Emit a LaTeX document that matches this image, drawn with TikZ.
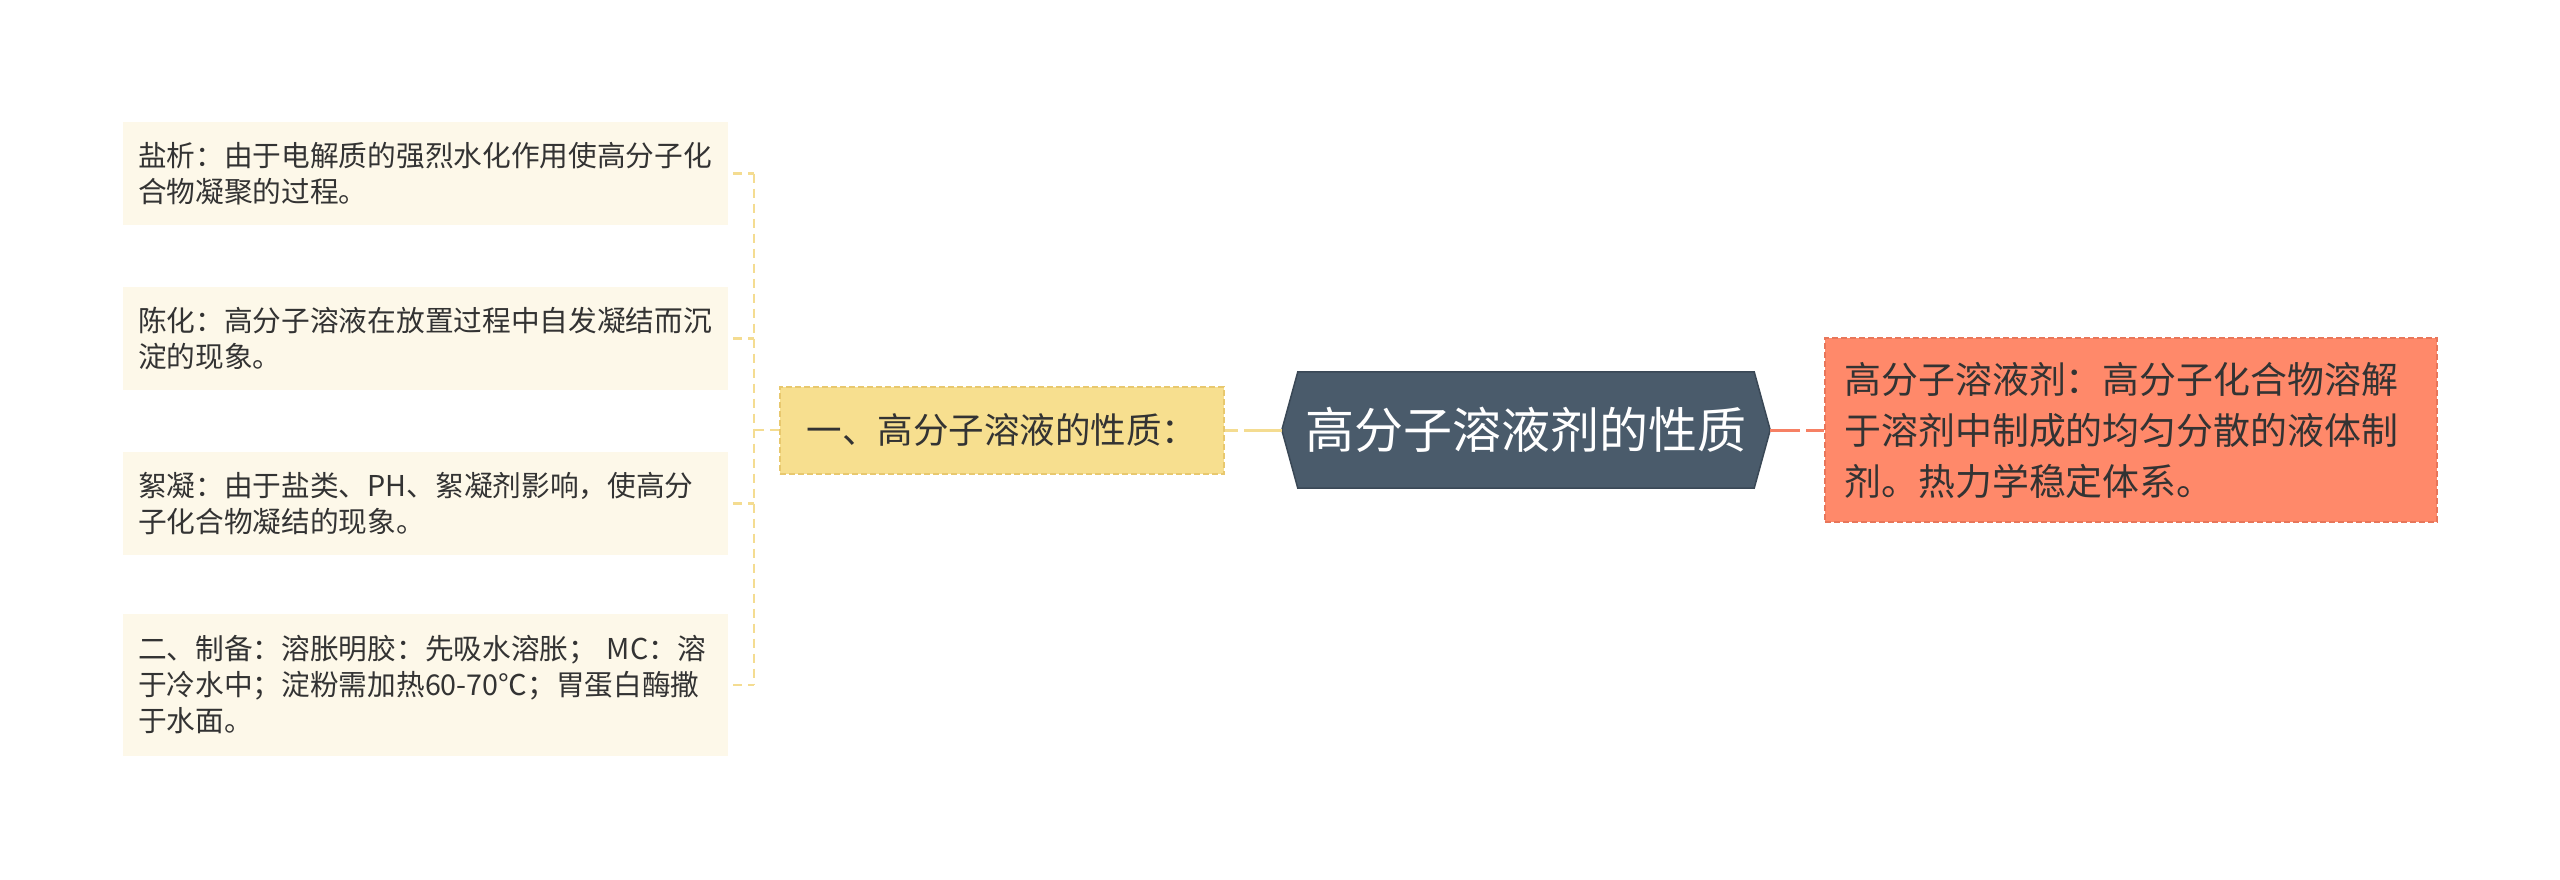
\documentclass[tikz,border=0pt]{standalone}
\usepackage{fontspec}
\setmainfont{Noto Sans CJK SC}
\usetikzlibrary{calc}
\pgfdeclarelayer{background}
\pgfsetlayers{background,main}
\definecolor{leaffill}{RGB}{253,248,233}
\definecolor{yfill}{RGB}{247,223,143}
\definecolor{yborder}{RGB}{232,200,110}
\definecolor{yline}{RGB}{244,220,145}
\definecolor{ofill}{RGB}{255,137,106}
\definecolor{oborder}{RGB}{232,118,90}
\definecolor{oline}{RGB}{246,128,100}
\definecolor{hexfill}{RGB}{74,91,107}
\definecolor{hexborder}{RGB}{58,72,86}
\definecolor{txt}{RGB}{51,51,51}
\tikzset{
  leaf/.style={fill=leaffill, text=txt, text width=575pt, inner xsep=15pt, inner ysep=0pt,
    align=left, font=\fontsize{28.7}{36}\selectfont},
  subbox/.style={fill=yfill, draw=yborder, line width=2pt, dash pattern=on 6pt off 3pt,
    minimum width=444pt, minimum height=87pt, text=txt, font=\fontsize{35.5}{44}\selectfont},
  rootbox/.style={minimum width=456pt, minimum height=116pt, inner sep=0pt, text=white,
    font=\fontsize{49}{56}\selectfont},
  obox/.style={fill=ofill, draw=oborder, line width=2pt, dash pattern=on 6pt off 3pt,
    text width=572pt, inner xsep=20pt, align=left, minimum height=184pt, text=txt,
    font=\fontsize{36.9}{51}\selectfont},
  yconn/.style={draw=yline, line width=2.5pt, dash pattern=on 9pt off 6pt},
  yconnroot/.style={draw=yline, line width=3pt, dash pattern=on 38pt off 6pt},
  oconn/.style={draw=oline, line width=3pt, dash pattern=on 30pt off 6pt},
}
\begin{document}
\begin{tikzpicture}[x=1pt,y=-1pt]
\begin{pgfonlayer}{background}
\fill[white] (0,0) rectangle (2560,879);
\end{pgfonlayer}
% leaves
\node[leaf, minimum height=103pt] (l1) at (425.5,173.5) {盐析：由于电解质的强烈水化作用使高分子化\\合物凝聚的过程。};
\node[leaf, minimum height=103pt] (l2) at (425.5,338.5) {陈化：高分子溶液在放置过程中自发凝结而沉\\淀的现象。};
\node[leaf, minimum height=103pt] (l3) at (425.5,503.5) {絮凝：由于盐类、PH、絮凝剂影响，使高分\\子化合物凝结的现象。};
\node[leaf, minimum height=142pt] (l4) at (425.5,685) {二、制备：溶胀明胶：先吸水溶胀； MC：溶\\于冷水中；淀粉需加热60-70℃；胃蛋白酶撒\\于水面。};
% sub topic
\node[subbox] (sub) at (1002,430) {一、高分子溶液的性质：};
% root
\node[rootbox] (root) at (1526,430) {高分子溶液剂的性质};
\coordinate (rootW) at ($(root.west)+(-16,0)$);
\coordinate (rootE) at ($(root.east)+(16,0)$);
\begin{pgfonlayer}{background}
\filldraw[fill=hexfill, draw=hexborder, line width=1.5pt]
  (root.north west) -- (root.north east) -- (rootE) -- (root.south east)
  -- (root.south west) -- (rootW) -- cycle;
\end{pgfonlayer}
% right topic
\node[obox] (ob) at (2130.5,430) {高分子溶液剂：高分子化合物溶解\\于溶剂中制成的均匀分散的液体制\\剂。热力学稳定体系。};
% connectors
\coordinate (trunk) at (754,430);
\draw[yconn] (sub.west) -- (sub.west -| trunk);
\draw[yconn] (l1.east -| trunk) -- (l4.east -| trunk);
\draw[yconn] (l1.east) ++(5,0) -- (l1.east -| trunk);
\draw[yconn] (l2.east) ++(5,0) -- (l2.east -| trunk);
\draw[yconn] (l3.east) ++(5,0) -- (l3.east -| trunk);
\draw[yconn] (l4.east) ++(5,0) -- (l4.east -| trunk);
\draw[yconnroot] (rootW) -- (sub.east);
\draw[oconn] (rootE) -- (ob.west);
\end{tikzpicture}
\end{document}
